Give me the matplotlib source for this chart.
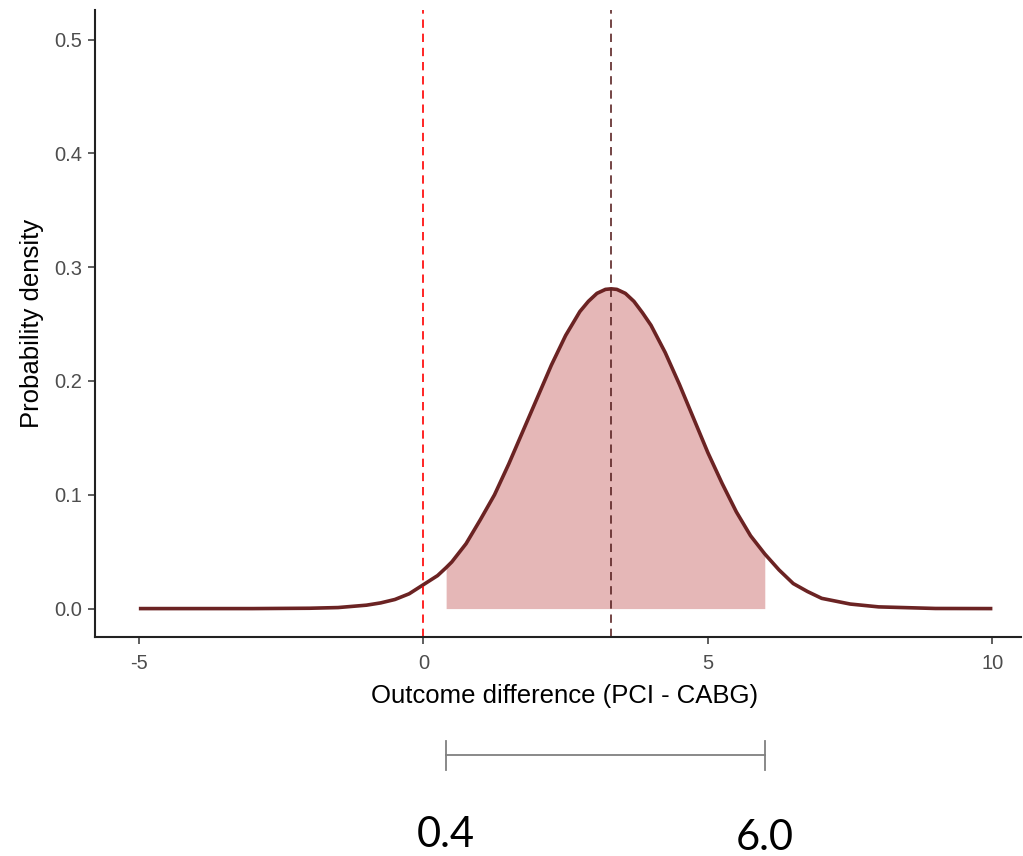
import matplotlib
matplotlib.use("Agg")
import matplotlib.pyplot as plt
import matplotlib.transforms as mtransforms
import numpy as np

# density curve
diff_x = [-5, -4, -3, -2, -1.5, -1, -0.75, -0.5, -0.25, 0, 0.25, 0.4, 0.5, 0.75,
          1, 1.25, 1.5, 1.75, 2, 2.25, 2.5, 2.75, 2.9, 3.05, 3.2, 3.3, 3.4, 3.55,
          3.7, 3.85, 4, 4.25, 4.5, 4.75, 5, 5.25, 5.5, 5.75, 6, 6.25, 6.5, 6.75,
          7, 7.5, 8, 9, 10]
density = [0.0, 0.0, 0.0, 0.0003, 0.0009, 0.003, 0.005, 0.008, 0.013, 0.021, 0.029,
           0.036, 0.041, 0.057, 0.078, 0.100, 0.127, 0.156, 0.185, 0.214, 0.240,
           0.261, 0.270, 0.277, 0.2805, 0.281, 0.2805, 0.277, 0.270, 0.260, 0.249,
           0.225, 0.197, 0.167, 0.137, 0.110, 0.085, 0.064, 0.048, 0.034, 0.022,
           0.015, 0.009, 0.004, 0.0015, 0.0001, 0.0]

ci_low = 0.4
ci_high = 6.0
mean_diff = 3.3
null_value = 0

xticks = [-5, 0, 5, 10]
yticks = [0.0, 0.1, 0.2, 0.3, 0.4, 0.5]

curve_col = "#6B2323"
fill_col = "#E5B7B7"

fig = plt.figure(figsize=(10.23, 8.56), dpi=100)
ax = fig.add_axes([0.0929, 0.2558, 0.905, 0.7325])

x = np.array(diff_x)
y = np.array(density)
inside = (x >= ci_low) & (x <= ci_high)
ax.fill_between(x[inside], 0, y[inside], color=fill_col, lw=0)
ax.plot(x, y, color=curve_col, lw=2.6, solid_capstyle="butt",
        solid_joinstyle="round")

ax.axvline(null_value, color="#FF0000", lw=1.2, ls=(0, (5, 3.5)))
ax.axvline(mean_diff, color="#5C2525", lw=1.2, ls=(0, (5, 3.5)))

ax.set_xlim(-5.77, 10.5)
ax.set_ylim(-0.025, 0.526)
ax.set_xticks(xticks)
ax.set_xticklabels([str(t) for t in xticks])
ax.set_yticks(yticks)
ax.set_yticklabels(["%.1f" % t for t in yticks])

for side in ["top", "right"]:
    ax.spines[side].set_visible(False)
for side in ["left", "bottom"]:
    ax.spines[side].set_linewidth(1.5)
    ax.spines[side].set_color("#222222")

ax.tick_params(axis="both", length=5, width=1.1, color="#333333",
               labelcolor="#4D4D4D", labelsize=14.5)
ax.tick_params(axis="x", pad=7)
ax.tick_params(axis="y", pad=4.5)
for lab in ax.get_xticklabels() + ax.get_yticklabels():
    lab.set_family("Liberation Sans")

ax.set_xlabel("Outcome difference (PCI - CABG)", fontsize=18.5,
              family="Liberation Sans", labelpad=4)
ax.xaxis.set_label_coords(0.507, -0.075)
ax.set_ylabel("Probability density", fontsize=18.5,
              family="Liberation Sans", labelpad=7)

# interval bracket under the plot
trans = mtransforms.blended_transform_factory(ax.transData, fig.transFigure)
ax.plot([ci_low, ci_high], [0.118, 0.118], color="#808080", lw=1.3,
        transform=trans, clip_on=False)
for v in [ci_low, ci_high]:
    ax.plot([v, v], [0.1005, 0.1343], color="#808080", lw=1.3,
            transform=trans, clip_on=False)

fig.text(ci_low, 0.0105, "%.1f" % ci_low, transform=trans, ha="center",
         va="baseline", fontsize=30, family="Lato")
fig.text(ci_high, 0.007, "%.1f" % ci_high, transform=trans, ha="center",
         va="baseline", fontsize=30, family="Lato")

fig.savefig("out.png", dpi=100)
